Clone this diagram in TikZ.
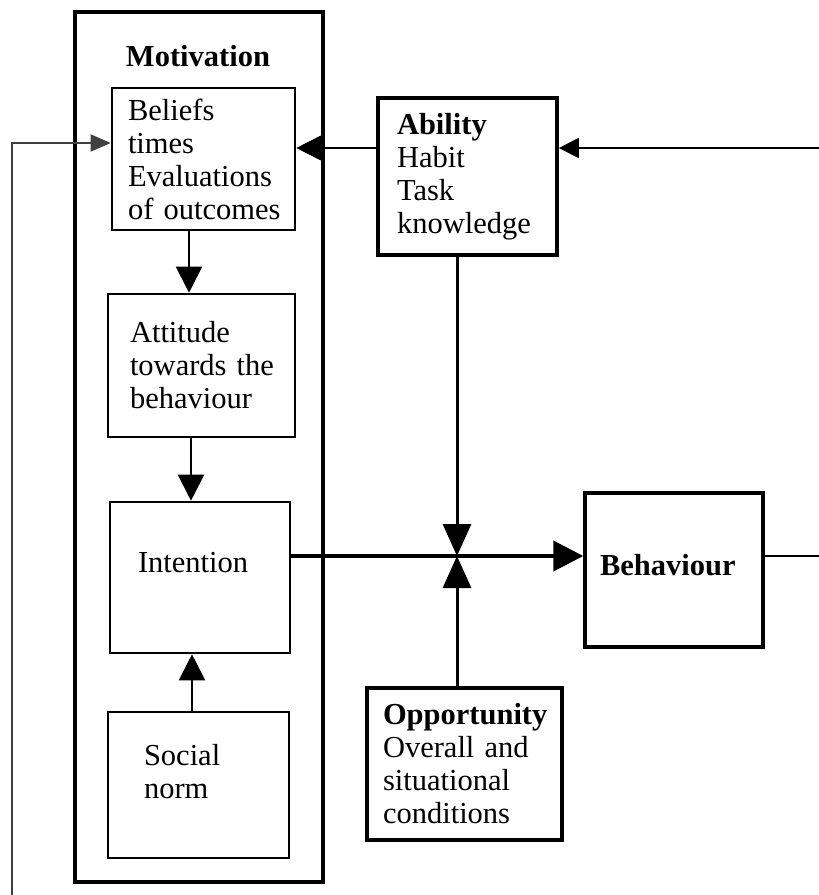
\documentclass[tikz,border=0pt]{standalone}
\usepackage{fontspec}
\setmainfont{Liberation Serif}
\usetikzlibrary{arrows.meta}
\begin{document}
\begin{tikzpicture}[x=1pt,y=-1pt,
  every node/.style={font=\fontsize{30.5}{33}\selectfont},
  box/.style={draw, line width=2.6pt, rectangle, inner ysep=0pt, align=left},
  thinline/.style={line width=1.6pt},
  tri/.style={-{Triangle[length=#1,width=#1]}},
]
\useasboundingbox (0,0) rectangle (819,895);

% outer Motivation box
\node[draw, line width=4pt, minimum width=248pt, minimum height=870pt, inner sep=0pt] (motiv) at (199,447) {};
\node[font=\fontsize{30.5}{33}\selectfont\bfseries] (motivtitle) at (198,56) {Motivation};

% boxes
\node[box, text width=151pt, inner xsep=16pt, minimum height=142pt] (beliefs) at (203.5,159)
  {Beliefs\\times\\Evaluations\\\mbox{of outcomes}};
\node[box, text width=143pt, inner xsep=22pt, minimum height=143pt] (attitude) at (201.5,365.5)
  {Attitude\\\mbox{towards the}\\behaviour};
\node[box, text width=124pt, inner xsep=28pt, minimum height=151pt, text depth=30pt] (intention) at (200,577.5)
  {Intention};
\node[box, text width=109pt, inner xsep=36pt, minimum height=146pt, text depth=60pt] (social) at (198.5,785)
  {Social\\norm};
\node[box, line width=3.6pt, text width=141pt, inner xsep=19pt, minimum height=157pt] (ability) at (467.5,176.5)
  {\textbf{Ability}\\Habit\\Task\\knowledge};
\node[box, line width=3.4pt, text width=148pt, inner xsep=15pt, minimum height=154pt, text depth=10pt] (behaviour) at (674,570)
  {\textbf{Behaviour}};
\node[box, line width=3.4pt, text width=163pt, inner xsep=16pt, minimum height=152pt] (opportunity) at (464.5,764)
  {\textbf{Opportunity}\\\mbox{Overall and}\\situational\\conditions};

% helper coordinates
\coordinate (colA) at (189,0);
\coordinate (colB) at (191,0);
\coordinate (colC) at (192,0);
\coordinate (rowB) at (0,148);
\coordinate (rowI) at (0,556);
\coordinate (J) at (457,556);
\coordinate (rin) at (819,148);
\coordinate (rout) at (819,556);
\coordinate (lbot) at (12,895);
\coordinate (ltop) at (12,143);

% connectors inside Motivation
\draw[line width=2pt, tri=26pt] (beliefs.south -| colA) -- (attitude.north -| colA);
\draw[line width=2pt, tri=26pt] (attitude.south -| colB) -- (intention.north -| colB);
\draw[line width=2pt, tri=26pt] (social.north -| colC) -- (intention.south -| colC);

% ability to beliefs
\draw[thinline, tri=25pt] (ability.west |- rowB) -- (beliefs.east |- rowB);
% feedback from right into ability
\draw[line width=2pt, tri=20pt] (rin) -- (ability.east |- rin);
% feedback on the left into beliefs
\draw[line width=1.5pt, black!75, -{Triangle[length=20pt,width=17pt]}] (lbot) -- (ltop) -- (beliefs.west |- ltop);

% intention to behaviour
\draw[line width=4pt, tri=30pt] (intention.east |- rowI) -- (behaviour.west |- rowI);
% ability and opportunity into the junction
\draw[line width=3pt, -{Triangle[length=32pt,width=28pt]}] (ability.south -| J) -- (J);
\draw[line width=3pt, -{Triangle[length=32pt,width=28pt]}] (opportunity.north -| J) -- (J);
% behaviour out to the right
\draw[line width=2pt] (behaviour.east |- rowI) -- (rout);
\end{tikzpicture}
\end{document}
